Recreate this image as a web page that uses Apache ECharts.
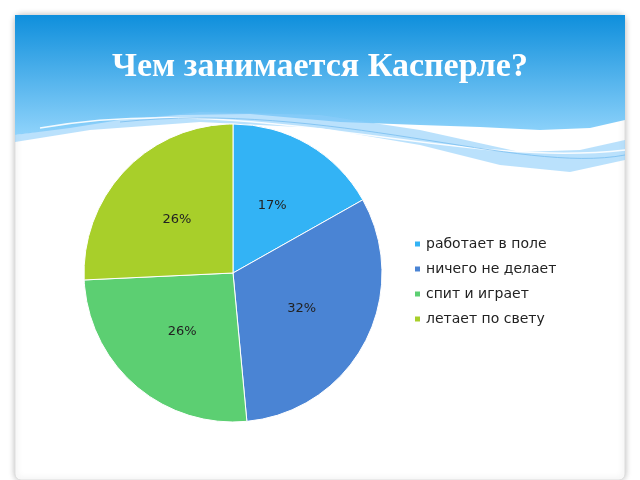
<!DOCTYPE html>
<html><head><meta charset="utf-8">
<script src="https://cdn.jsdelivr.net/npm/echarts@6/dist/echarts.min.js"></script>
<style>html,body{margin:0;padding:0;background:#fff}#c{width:640px;height:480px}</style>
</head><body><div id="c"></div>
<script>
const categories = ['работает в поле','ничего не делает','спит и играет','летает по свету'];
const values = [17, 32, 26, 26];
const colors = ['#33b3f5','#4a84d4','#5ccf72','#a8cf2a'];
const chart = echarts.init(document.getElementById('c'));
const grad = {type:'linear',x:0,y:0,x2:0,y2:1,colorStops:[{offset:0,color:'#0f8fdc'},{offset:1,color:'#8fd3fb'}]};
chart.setOption({
  graphic: [
    {type:'rect', shape:{x:15,y:15,width:610,height:465,r:6}, style:{fill:'#fff',stroke:'#ddd',lineWidth:1,shadowBlur:6,shadowColor:'rgba(0,0,0,0.25)'}, z:-10},
    {type:'polygon', shape:{points:[[15,15],[625,15],[625,120],[590,128],[540,130],[480,127],[420,125],[340,122],[250,114],[180,115],[120,120],[70,128],[15,135]]},
      style:{fill:grad}, z:-9},
    {type:'polygon', shape:{points:[[15,135],[100,122],[200,112],[320,115],[420,130],[520,152],[580,150],[625,140],[625,160],[570,172],[500,165],[420,145],[320,128],[200,122],[90,130],[15,142]]},
      style:{fill:'rgba(140,205,250,0.6)'}, z:-8},
    {type:'bezierCurve', shape:{x1:40,y1:128,cpx1:250,cpy1:90,cpx2:450,cpy2:170,x2:625,y2:150}, style:{fill:null,stroke:'rgba(255,255,255,0.9)',lineWidth:1.5}, z:-7},
    {type:'bezierCurve', shape:{x1:120,y1:122,cpx1:330,cpy1:100,cpx2:520,cpy2:175,x2:625,y2:155}, style:{fill:null,stroke:'rgba(120,190,240,0.8)',lineWidth:1}, z:-7},
    {type:'text', left:'center', top:50, style:{text:'Чем занимается Касперле?', fill:'#fff', font:'bold 34px "Liberation Serif", "DejaVu Serif", serif'}, z:5}
  ],
  legend: {orient:'vertical', left:408, top:232, itemWidth:7, itemHeight:7, itemGap:11, icon:'rect',
    textStyle:{fontSize:14, color:'#222', fontFamily:'"DejaVu Sans", sans-serif'}, data:categories},
  series: [{
    type:'pie', center:[233,273], radius:149, startAngle:90, clockwise:true,
    label:{show:true, position:'inner', formatter:'{c}%', fontSize:13, color:'#222', fontFamily:'"DejaVu Sans", sans-serif'},
    itemStyle:{borderColor:'#fff', borderWidth:1},
    emphasis:{disabled:true},
    data: categories.map((n,i)=>({name:n, value:values[i], itemStyle:{color:colors[i]}}))
  }]
});
</script></body></html>
